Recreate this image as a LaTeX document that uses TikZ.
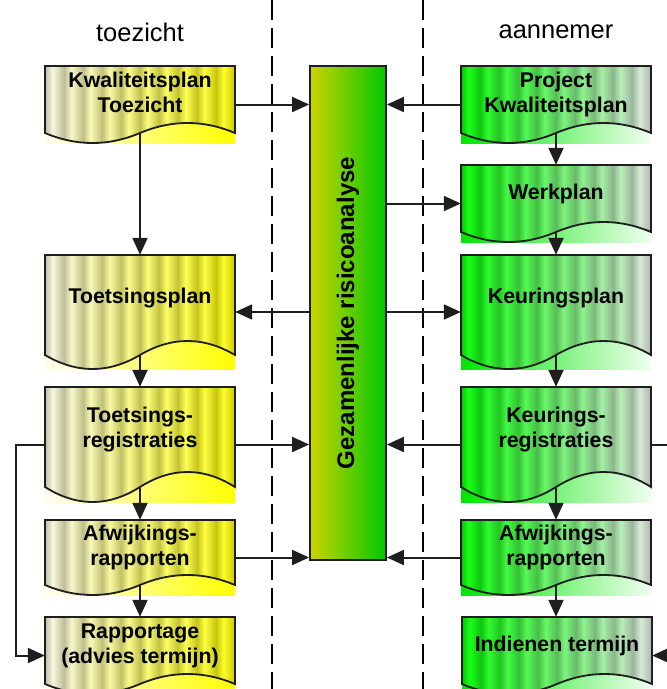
\documentclass[tikz,border=0pt]{standalone}
\usepackage{fontspec}
\setmainfont{Liberation Sans}
\usepackage{graphicx}
\usepackage{tikz}
\usetikzlibrary{arrows.meta}
\tikzset{>={Triangle[length=17pt,width=15pt]}}
\definecolor{lijn}{RGB}{30,30,30}
\definecolor{aanngreen}{RGB}{0,230,0}
\definecolor{barleft}{RGB}{205,212,0}
\definecolor{barright}{RGB}{0,200,0}
\pgfdeclarehorizontalshading{toezstripes}{100bp}{rgb(0bp)=(.74,.74,.68);
  rgb(25bp)=(.74,.74,.68); rgb(27bp)=(.97,.97,.86);
  rgb(30bp)=(.744,.744,.61); rgb(32bp)=(.974,.974,.784);
  rgb(35bp)=(.748,.748,.54); rgb(37bp)=(.978,.978,.708);
  rgb(40bp)=(.752,.752,.47); rgb(42bp)=(.982,.982,.632);
  rgb(45bp)=(.756,.756,.40); rgb(47bp)=(.986,.986,.556);
  rgb(50bp)=(.76,.76,.33); rgb(52bp)=(.99,.99,.48);
  rgb(55bp)=(.764,.764,.26); rgb(57bp)=(.994,.994,.404);
  rgb(60bp)=(.768,.768,.19); rgb(62bp)=(.998,.998,.328);
  rgb(65bp)=(.772,.772,.12); rgb(67bp)=(1,1,.252);
  rgb(70bp)=(.776,.776,.05); rgb(72bp)=(1,1,.176);
  rgb(75bp)=(.78,.78,0); rgb(100bp)=(.78,.78,0)}
\pgfdeclarehorizontalshading{aannstripes}{100bp}{rgb(0bp)=(0,.78,0);
  rgb(25bp)=(0,.78,0); rgb(27bp)=(.1,1,.1);
  rgb(30bp)=(.068,.772,.068); rgb(32bp)=(.178,.992,.178);
  rgb(35bp)=(.136,.764,.136); rgb(37bp)=(.256,.984,.256);
  rgb(40bp)=(.204,.756,.204); rgb(42bp)=(.334,.976,.334);
  rgb(45bp)=(.272,.748,.272); rgb(47bp)=(.412,.968,.412);
  rgb(50bp)=(.34,.74,.34); rgb(52bp)=(.49,.96,.49);
  rgb(55bp)=(.408,.732,.408); rgb(57bp)=(.568,.952,.568);
  rgb(60bp)=(.476,.724,.476); rgb(62bp)=(.646,.944,.646);
  rgb(65bp)=(.544,.716,.544); rgb(67bp)=(.724,.936,.724);
  rgb(70bp)=(.612,.708,.612); rgb(72bp)=(.84,.92,.84);
  rgb(75bp)=(.68,.71,.68); rgb(100bp)=(.68,.71,.68)}
\tikzset{
  docline/.style={draw=lijn, line width=1.8pt},
  docbox/.style={minimum width=190, inner sep=0pt, align=center,
    font=\bfseries\fontsize{21.3}{25}\selectfont},
  toezlow/.style={left color=yellow!6, right color=yellow},
  aannlow/.style={left color=aanngreen, right color=green!6},
  pijl/.style={->, draw=lijn, line width=2pt},
  scheiding/.style={draw=black, line width=1.6pt, dash pattern=on 20pt off 8pt},
  kop/.style={font=\fontsize{25.5}{30}\selectfont},
  balk/.style={draw=lijn, line width=1.8pt, minimum width=76, minimum height=494,
    inner sep=0pt, left color=barleft, right color=barright,
    font=\bfseries\fontsize{24}{28}\selectfont}
}
% #1 name, #2 left, #3 top, #4 height, #5 wave, #6 side, #7 text
\newcommand{\docnode}[7]{
  \pgfmathsetmacro\docy{#3+(#4+#5)/2}
  \pgfmathsetmacro\docdp{2*#5+4}
  \shade[#6low] (#2,#3+#4-#5) rectangle (#2+190,#3+#4+#5);
  \shadedraw[shading=#6stripes, docline] (#2,#3) -- (#2+190,#3) -- (#2+190,#3+#4)
    .. controls (#2+190-190/6,#3+#4-4/3*#5) and (#2+190-190/3,#3+#4-4/3*#5) .. (#2+95,#3+#4)
    .. controls (#2+190/3,#3+#4+4/3*#5) and (#2+190/6,#3+#4+4/3*#5) .. (#2,#3+#4) -- cycle;
  \coordinate (#1-golf) at (#2+95,#3+#4);
  \node[docbox, minimum height=#4+#5, text depth=\docdp pt] (#1) at (#2+95,\docy) {#7};
}

\begin{document}
\begin{tikzpicture}[x=1pt, y=-1pt]
    \useasboundingbox (0,0) rectangle (667,689);
    \clip (0,0) rectangle (667,689);
    \draw[scheiding] (272,0) -- (272,689);
    \draw[scheiding] (423,0) -- (423,689);
    \node[kop] (toez) at (140,32) {toezicht};
    \node[kop] (aann) at (556,32) {aannemer};

    \node[balk] (gra) at (348,313) {\rotatebox{90}{Gezamenlijke risicoanalyse}};

    % toezicht
    \docnode{kwt}{45}{66}{67}{10}{toez}{Kwaliteitsplan\\Toezicht}
    \docnode{tplan}{45}{255}{100}{14}{toez}{Toetsingsplan}
    \docnode{treg}{45}{387}{100}{15}{toez}{Toetsings-\\registraties}
    \docnode{tafw}{45}{520}{65}{10}{toez}{Afwijkings-\\rapporten}
    \docnode{rapp}{45}{617}{67}{10}{toez}{Rapportage\\(advies termijn)}
    % aannemer
    \docnode{pkp}{461}{66}{67}{10}{aann}{Project\\Kwaliteitsplan}
    \docnode{wplan}{461}{165}{67}{10}{aann}{Werkplan}
    \docnode{kplan}{461}{255}{100}{14}{aann}{Keuringsplan}
    \docnode{kreg}{461}{387}{100}{15}{aann}{Keurings-\\registraties}
    \docnode{kafw}{461}{520}{65}{10}{aann}{Afwijkings-\\rapporten}
    \docnode{indien}{462}{617}{67}{10}{aann}{Indienen termijn}

    \draw[pijl] (kwt) -- (kwt -| gra.west);
    \draw[pijl] (pkp) -- (pkp -| gra.east);
    \draw[pijl] (gra.east |- wplan) -- (wplan);
    \draw[pijl] (gra.west |- tplan) -- (tplan);
    \draw[pijl] (gra.east |- kplan) -- (kplan);
    \draw[pijl] (treg) -- (treg -| gra.west);
    \draw[pijl] (kreg) -- (kreg -| gra.east);
    \draw[pijl] (tafw) -- (tafw -| gra.west);
    \draw[pijl] (kafw) -- (kafw -| gra.east);

    \draw[pijl] (kwt-golf) -- (tplan);
    \draw[pijl] (tplan-golf) -- (treg);
    \draw[pijl] (treg-golf) -- (tafw);
    \draw[pijl] (tafw-golf) -- (rapp);
    \draw[pijl] (pkp-golf) -- (wplan);
    \draw[pijl] (wplan-golf) -- (kplan);
    \draw[pijl] (kplan-golf) -- (kreg);
    \draw[pijl] (kreg-golf) -- (kafw);
    \draw[pijl] (kafw-golf) -- (kafw-golf |- indien.north);

    \draw[pijl] (treg.west) -- ++(-29,0) |- (rapp);
    \draw[pijl] (kreg.east) -- ++(22,0) |- (indien);
\end{tikzpicture}
\end{document}
